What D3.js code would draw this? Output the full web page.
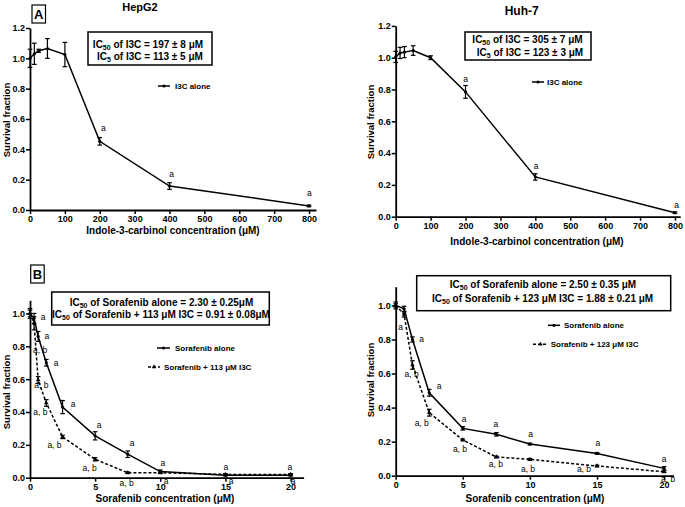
<!DOCTYPE html>
<html><head><meta charset="utf-8">
<script src="https://cdn.jsdelivr.net/npm/d3@7"></script>
<style>
html,body{margin:0;padding:0;background:#fff;}
svg{display:block;font-family:"Liberation Sans",Arial,sans-serif;}
</style></head>
<body><svg id="c" width="685" height="507"></svg>
<script>
// ---------- DATA ----------
const i3cConc = [0, 12.5, 25, 50, 100, 200, 400, 800];
const hepI3C = [1.0, 1.03, 1.05, 1.065, 1.025, 0.453, 0.158, 0.027];
const hepI3CErr = [0.06, 0.07, 0.01, 0.065, 0.08, 0.025, 0.022, 0.005];
const huhI3C = [1.005, 1.03, 1.035, 1.045, 1.0, 0.785, 0.25, 0.025];
const huhI3CErr = [0.035, 0.035, 0.035, 0.03, 0.012, 0.04, 0.02, 0.005];
const i3cTicks = [0, 100, 200, 300, 400, 500, 600, 700, 800];
const survTicksA = [0, 0.2, 0.4, 0.6, 0.8, 1.0, 1.2];
const survTicksB = [0, 0.2, 0.4, 0.6, 0.8, 1.0];

const sorConcL = [0, 0.3125, 0.625, 1.25, 2.5, 5, 7.5, 10, 15, 20];
const hepSor = [1.0, 0.97, 0.86, 0.70, 0.43, 0.255, 0.143, 0.037, 0.015, 0.015];
const hepSorErr = [0.03, 0.03, 0.03, 0.02, 0.04, 0.025, 0.02, 0.01, 0.005, 0.005];
const hepCombo = [1.0, 0.94, 0.595, 0.455, 0.248, 0.112, 0.03, 0.03, 0.02, 0.02];
const hepComboErr = [0.02, 0.04, 0.02, 0.02, 0.01, 0.01, 0.005, 0.005, 0.005, 0.005];

const sorConcR = [0, 0.625, 1.25, 2.5, 5, 7.5, 10, 15, 20];
const huhSor = [1.0, 0.98, 0.80, 0.487, 0.278, 0.243, 0.186, 0.131, 0.043];
const huhSorErr = [0.02, 0.015, 0.015, 0.02, 0.01, 0.01, 0.005, 0.005, 0.01];
const huhCombo = [1.0, 0.947, 0.65, 0.37, 0.21, 0.11, 0.096, 0.057, 0.023];
const huhComboErr = [0.01, 0.015, 0.025, 0.02, 0.005, 0.005, 0.005, 0.005, 0.005];
const sorTicks = [0, 5, 10, 15, 20];

// significance annotations: [x, y, text] in data units
const hepI3CLabels = [[210, 0.539, "a"], [406, 0.237, "a"], [801, 0.11, "a"]];
const huhI3CLabels = [[200, 0.866, "a"], [402, 0.32, "a"], [805, 0.074, "a"]];
const hepSorLabels = [[1.0, 0.977, "a"], [1.3, 0.862, "a"], [2.0, 0.698, "a"], [3.3, 0.449, "a"], [5.3, 0.32, "a"], [7.83, 0.21, "a"], [10.2, 0.09, "a"], [15.04, 0.066, "a"], [19.95, 0.066, "a"]];
const hepComboLabels = [[0.77, 0.777, "a, b"], [0.88, 0.564, "a, b"], [0.8, 0.40, "a, b"], [1.88, 0.2, "a, b"], [4.57, 0.06, "a, b"], [7.42, -0.032, "a, b"], [10.44, -0.02, "a"], [15.43, -0.02, "a"], [20.2, -0.02, "a"]];
const huhSorLabels = [[1.94, 0.803, "a"], [3.23, 0.528, "a"], [5.09, 0.333, "a"], [7.47, 0.304, "a"], [10.06, 0.245, "a"], [15.07, 0.194, "a"], [20.0, 0.098, "a"]];
const huhComboLabels = [[0.37, 0.871, "a"], [1.19, 0.597, "a, b"], [1.94, 0.311, "a, b"], [4.79, 0.157, "a, b"], [7.47, 0.069, "a, b"], [9.86, 0.039, "a, b"], [14.03, 0.039, "a, b"], [20.3, -0.019, "a, b"]];

// ---------- DRAW ----------
const svg = d3.select("#c");
const FONT = '"Liberation Sans",Arial,sans-serif';

function panel(cfg) {
  const g = svg.append("g");
  const x = d3.scaleLinear().domain(cfg.xDomain).range(cfg.xRange);
  const y = d3.scaleLinear().domain(cfg.yDomain).range(cfg.yRange);

  const xa = g.append("g").attr("transform", `translate(0,${y(0)})`)
    .call(d3.axisBottom(x).tickValues(cfg.xTicks).tickSize(4).tickPadding(2).tickSizeOuter(0).tickFormat(d3.format("d")));
  const ya = g.append("g").attr("transform", `translate(${x(0)},0)`)
    .call(d3.axisLeft(y).tickValues(cfg.yTicks).tickSize(4).tickPadding(1).tickSizeOuter(0).tickFormat(d3.format(".1f")));
  [xa, ya].forEach(a => {
    a.select(".domain").attr("stroke", "#000").attr("stroke-width", 1.8);
    a.selectAll(".tick line").attr("stroke", "#000").attr("stroke-width", 1.5);
    a.selectAll(".tick text").attr("fill", "#000").attr("font-size", 9).attr("font-weight", "bold").attr("font-family", FONT);
  });

  cfg.series.forEach(s => {
    const pts = s.x.map((d, i) => ({x: d, y: s.y[i], e: s.err[i]}));
    g.append("path").datum(pts)
      .attr("fill", "none").attr("stroke", "#000").attr("stroke-width", 1.5)
      .attr("stroke-dasharray", s.dashed ? "3,2" : null)
      .attr("d", d3.line().x(d => x(d.x)).y(d => y(d.y)));
    const eb = g.append("g").attr("stroke", "#000").attr("stroke-width", 1.2);
    pts.forEach(p => {
      if (p.e <= 0) return;
      const cx = x(p.x), y1 = y(p.y + p.e), y2 = y(p.y - p.e);
      eb.append("line").attr("x1", cx).attr("x2", cx).attr("y1", y1).attr("y2", y2);
      eb.append("line").attr("x1", cx - 2.3).attr("x2", cx + 2.3).attr("y1", y1).attr("y2", y1);
      eb.append("line").attr("x1", cx - 2.3).attr("x2", cx + 2.3).attr("y1", y2).attr("y2", y2);
    });
    if (s.dashed) {
      g.selectAll(null).data(pts).join("path")
        .attr("transform", d => `translate(${x(d.x)},${y(d.y)})`)
        .attr("d", d3.symbol(d3.symbolTriangle, 9)).attr("fill", "#000");
    } else {
      g.selectAll(null).data(pts).join("circle")
        .attr("cx", d => x(d.x)).attr("cy", d => y(d.y)).attr("r", 1.6).attr("fill", "#000");
    }
  });

  (cfg.labels || []).forEach(L => {
    g.selectAll(null).data(L).join("text")
      .attr("x", d => x(d[0])).attr("y", d => y(d[1]))
      .attr("text-anchor", "middle").attr("dominant-baseline", "central")
      .attr("font-size", 8.5).attr("font-family", FONT).text(d => d[2]);
  });

  // axis titles
  g.append("text").attr("x", cfg.xTitlePos[0]).attr("y", cfg.xTitlePos[1])
    .attr("text-anchor", "middle").attr("font-size", 10).attr("font-weight", "bold")
    .attr("font-family", FONT).text(cfg.xTitle);
  g.append("text").attr("transform", `translate(${cfg.yTitlePos[0]},${cfg.yTitlePos[1]}) rotate(-90)`)
    .attr("text-anchor", "middle").attr("dominant-baseline", "central")
    .attr("font-size", 9.5).attr("font-weight", "bold").attr("font-family", FONT).text("Survival fraction");

  // legend
  cfg.legend.forEach(l => {
    g.append("line").attr("x1", l.x1).attr("x2", l.x2).attr("y1", l.y).attr("y2", l.y)
      .attr("stroke", "#000").attr("stroke-width", 1.5).attr("stroke-dasharray", l.dashed ? "3,2" : null);
    const mx = (l.x1 + l.x2) / 2;
    if (l.dashed) g.append("path").attr("transform", `translate(${mx},${l.y})`).attr("d", d3.symbol(d3.symbolTriangle, 9));
    else g.append("circle").attr("cx", mx).attr("cy", l.y).attr("r", 1.6);
    g.append("text").attr("x", l.tx).attr("y", l.y).attr("dominant-baseline", "central")
      .attr("font-size", 8).attr("font-weight", "bold").attr("font-family", FONT).text(l.text);
  });

  // IC box
  const b = cfg.box;
  g.append("rect").attr("x", b.x).attr("y", b.y).attr("width", b.w).attr("height", b.h)
    .attr("fill", "#fff").attr("stroke", "#000").attr("stroke-width", 1.5);
  b.lines.forEach(ln => {
    const t = g.append("text").attr("x", ln.cx).attr("y", ln.cy).attr("text-anchor", "middle")
      .attr("dominant-baseline", "central").attr("font-size", 10).attr("font-weight", "bold").attr("font-family", FONT);
    t.append("tspan").text("IC");
    t.append("tspan").attr("font-size", 7).attr("dy", 3).text(ln.sub);
    t.append("tspan").attr("dy", -3).text(ln.rest);
  });

  if (cfg.title) {
    g.append("text").attr("x", cfg.title.x).attr("y", cfg.title.y).attr("text-anchor", "middle")
      .attr("dominant-baseline", "central").attr("font-size", cfg.title.size).attr("font-weight", "bold")
      .attr("font-family", FONT).text(cfg.title.text);
  }
  if (cfg.letter) {
    const L = cfg.letter;
    g.append("rect").attr("x", L.x).attr("y", L.y).attr("width", 13.5).attr("height", 18)
      .attr("fill", "#fff").attr("stroke", "#000").attr("stroke-width", 1.2);
    g.append("text").attr("x", L.x + 6.75).attr("y", L.y + 9.5).attr("text-anchor", "middle")
      .attr("dominant-baseline", "central").attr("font-size", 13).attr("font-weight", "bold")
      .attr("font-family", FONT).text(L.text);
  }
}

panel({
  xDomain: [0, 820], xRange: [30, 316], yDomain: [0, 1.2], yRange: [210, 28],
  xTicks: i3cTicks, yTicks: survTicksA,
  series: [{x: i3cConc, y: hepI3C, err: hepI3CErr}],
  labels: [hepI3CLabels],
  xTitle: "Indole-3-carbinol concentration (\u03BCM)", xTitlePos: [173, 234], yTitlePos: [6, 120],
  legend: [{x1: 158, x2: 170, y: 86, tx: 175, text: "I3C alone"}],
  box: {x: 88, y: 32, w: 124, h: 33, lines: [
    {cx: 148, cy: 43.5, sub: "50", rest: " of I3C = 197 \u00B1 8 \u03BCM"},
    {cx: 150, cy: 56, sub: "5", rest: " of I3C = 113 \u00B1 5 \u03BCM"}]},
  title: {x: 140, y: 7, text: "HepG2", size: 11},
  letter: {x: 32, y: 5, text: "A"}
});

panel({
  xDomain: [0, 815], xRange: [395.7, 680.2], yDomain: [0, 1.2], yRange: [216.7, 25.9],
  xTicks: i3cTicks, yTicks: survTicksA,
  series: [{x: i3cConc, y: huhI3C, err: huhI3CErr}],
  labels: [huhI3CLabels],
  xTitle: "Indole-3-carbinol concentration (\u03BCM)", xTitlePos: [537, 245], yTitlePos: [370, 122],
  legend: [{x1: 532, x2: 544, y: 82, tx: 547, text: "I3C alone"}],
  box: {x: 465, y: 32, w: 126, h: 28, lines: [
    {cx: 527.5, cy: 39, sub: "50", rest: " of I3C = 305 \u00B1 7 \u03BCM"},
    {cx: 530, cy: 52, sub: "5", rest: " of I3C = 123 \u00B1 3 \u03BCM"}]},
  title: {x: 521.7, y: 11, text: "Huh-7", size: 12}
});

panel({
  xDomain: [0, 21], xRange: [30, 303.6], yDomain: [0, 1.08], yRange: [477.7, 300.3],
  xTicks: sorTicks, yTicks: survTicksB,
  series: [{x: sorConcL, y: hepSor, err: hepSorErr}, {x: sorConcL, y: hepCombo, err: hepComboErr, dashed: true}],
  labels: [hepSorLabels, hepComboLabels],
  xTitle: "Sorafenib concentration (\u03BCM)", xTitlePos: [165, 502], yTitlePos: [6, 392],
  legend: [{x1: 157, x2: 170, y: 348, tx: 175, text: "Sorafenib alone"},
           {x1: 148, x2: 160, y: 367, tx: 164, text: "Sorafenib + 113 \u03BCM I3C", dashed: true}],
  box: {x: 51.7, y: 292, w: 217.6, h: 33, lines: [
    {cx: 161.5, cy: 301.5, sub: "50", rest: " of Sorafenib alone = 2.30 \u00B1 0.25\u03BCM"},
    {cx: 161, cy: 313.5, sub: "50", rest: " of Sorafenib + 113 \u03BCM I3C = 0.91 \u00B1 0.08\u03BCM"}]},
  letter: {x: 30.7, y: 265, text: "B"}
});

panel({
  xDomain: [0, 20.7], xRange: [395.7, 673.5], yDomain: [0, 1.11], yRange: [475.7, 286.7],
  xTicks: sorTicks, yTicks: survTicksB,
  series: [{x: sorConcR, y: huhSor, err: huhSorErr}, {x: sorConcR, y: huhCombo, err: huhComboErr, dashed: true}],
  labels: [huhSorLabels, huhComboLabels],
  xTitle: "Sorafenib concentration (\u03BCM)", xTitlePos: [535, 502], yTitlePos: [370, 380],
  legend: [{x1: 548, x2: 560, y: 325.3, tx: 564, text: "Sorafenib alone"},
           {x1: 533, x2: 548, y: 344.3, tx: 550.7, text: "Sorafenib + 123 \u03BCM I3C", dashed: true}],
  box: {x: 416.7, y: 275.7, w: 254, h: 35, lines: [
    {cx: 543, cy: 283.5, sub: "50", rest: " of Sorafenib alone = 2.50 \u00B1 0.35 \u03BCM"},
    {cx: 542.6, cy: 297.5, sub: "50", rest: " of Sorafenib + 123 \u03BCM I3C = 1.88 \u00B1 0.21 \u03BCM"}]}
});
</script></body></html>
